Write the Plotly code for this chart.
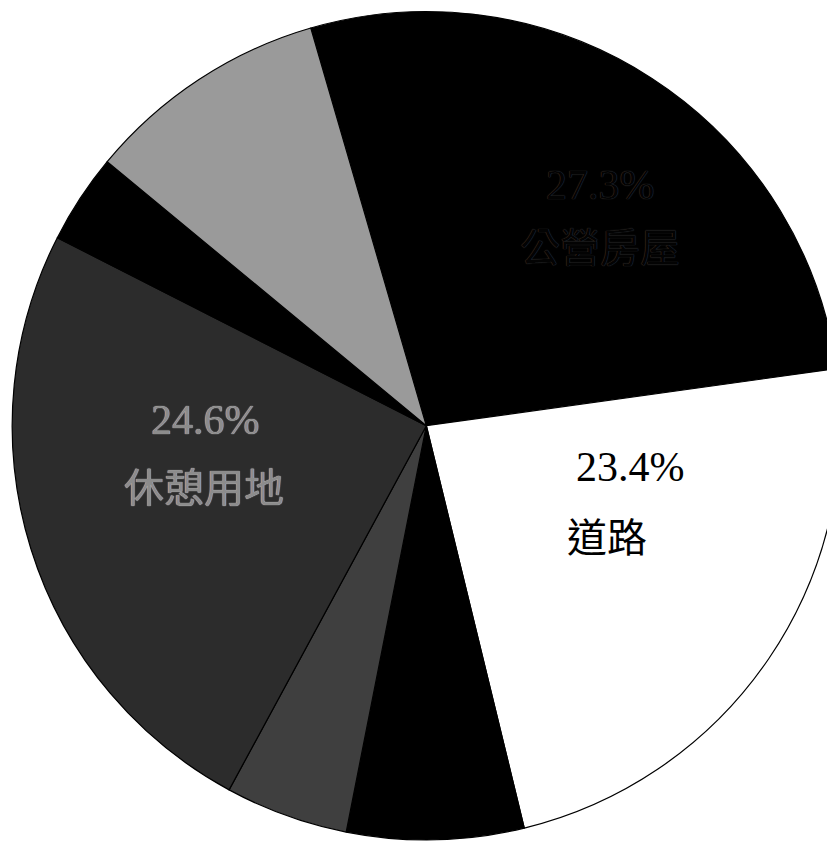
import plotly.graph_objects as go

# Land-use shares (clockwise from the top black slice)
categories = ["公營房屋", "道路", "其他A", "其他B", "休憩用地", "其他C", "其他D"]
values = [27.3, 23.4, 6.9, 4.8, 24.6, 3.5, 9.5]
colors = ["#000000", "#ffffff", "#000000", "#3f3f3f", "#2c2c2c", "#000000", "#9a9a9a"]

# Labelled slices and their percentage texts
label_cats = ["公營房屋", "道路", "休憩用地"]
label_pcts = ["27.3%", "23.4%", "24.6%"]

fig = go.Figure(
    go.Pie(
        labels=categories,
        values=values,
        sort=False,
        direction="clockwise",
        rotation=-16.2,
        marker=dict(colors=colors, line=dict(color="#000000", width=1.2)),
        textinfo="none",
        hoverinfo="label+percent",
        domain=dict(x=[0.005, 0.997], y=[0.0145, 0.998]),
        showlegend=False,
    )
)

serif = "Liberation Serif, serif"
cjk = "Noto Sans CJK TC, Liberation Serif, serif"

# label placement (percent x, y, name x, y, colour, shadow)
label_pos = {
    "公營房屋": (0.709, 0.791, 0.709, 0.720, "#030303", "0px 0px 1px #555555"),
    "道路": (0.745, 0.457, 0.717, 0.377, "#000000", "none"),
    "休憩用地": (0.237, 0.513, 0.235, 0.436, "#8c8c8c", "0px 0px 1px #ffffff"),
}

annotations = []
for cat, pct in zip(label_cats, label_pcts):
    px, py, lx, ly, col, sh = label_pos[cat]
    annotations.append(dict(
        x=px, y=py, xref="paper", yref="paper", text=pct, showarrow=False,
        xanchor="center", yanchor="middle",
        font=dict(family=serif, size=42, color=col, shadow=sh),
    ))
    annotations.append(dict(
        x=lx, y=ly, xref="paper", yref="paper", text=cat, showarrow=False,
        xanchor="center", yanchor="middle",
        font=dict(family=cjk, size=40, color=col, shadow=sh),
    ))

fig.update_layout(
    width=835,
    height=846,
    margin=dict(l=0, r=0, t=0, b=0),
    paper_bgcolor="#ffffff",
    plot_bgcolor="#ffffff",
    annotations=annotations,
)

fig.write_html("out.html")
